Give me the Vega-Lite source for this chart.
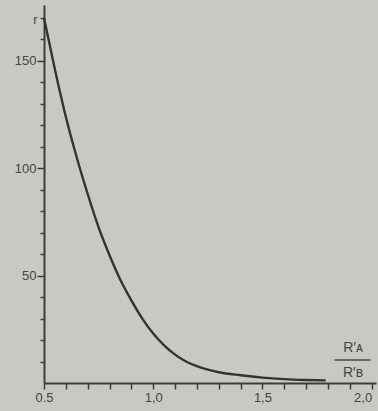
{
  "$schema": "https://vega.github.io/schema/vega-lite/v6.json",
  "width": 332,
  "height": 378,
  "autosize": {"type": "none"},
  "padding": {"left": 44, "top": 5, "right": 2, "bottom": 28},
  "background": "#c9c9c4",
  "config": {
    "view": {"stroke": null},
    "font": "Liberation Sans",
    "axis": {"grid": false, "labelOverlap": false, "labelBound": false, "domainColor": "#3c3c3c", "domainWidth": 2, "tickColor": "#3c3c3c", "tickWidth": 1.5, "labelColor": "#444444", "labelFont": "Liberation Sans", "labelFontSize": 13, "titleColor": "#444444", "titleFont": "Liberation Sans", "titleFontWeight": "normal"}
  },
  "datasets": {
    "curve": [
      {"q": 0.50, "r": 170},
      {"q": 0.55, "r": 146},
      {"q": 0.60, "r": 124},
      {"q": 0.65, "r": 105},
      {"q": 0.70, "r": 88},
      {"q": 0.75, "r": 72.5},
      {"q": 0.80, "r": 59.5},
      {"q": 0.85, "r": 48},
      {"q": 0.90, "r": 38.5},
      {"q": 0.95, "r": 30},
      {"q": 1.00, "r": 23},
      {"q": 1.05, "r": 17.5},
      {"q": 1.10, "r": 13.2},
      {"q": 1.15, "r": 10},
      {"q": 1.20, "r": 7.8},
      {"q": 1.25, "r": 6.2},
      {"q": 1.30, "r": 5},
      {"q": 1.40, "r": 3.6},
      {"q": 1.50, "r": 2.5},
      {"q": 1.60, "r": 1.8},
      {"q": 1.70, "r": 1.4},
      {"q": 1.79, "r": 1.2}
    ],
    "labels": [
      {"q": 1.915, "r": 16.5, "t": "R′ᴀ"},
      {"q": 1.915, "r": 4.8, "t": "R′ʙ"}
    ],
    "bar": [
      {"q": 1.83, "q2": 1.995, "r": 10.7}
    ]
  },
  "layer": [
    {
      "data": {"name": "curve"},
      "mark": {"type": "line", "interpolate": "monotone", "color": "#333333", "strokeWidth": 2.4},
      "encoding": {
        "x": {
          "field": "q", "type": "quantitative",
          "scale": {"domain": [0.5, 2.02], "nice": false, "zero": false},
          "axis": {
            "title": null,
            "tickCount": 100,
            "values": [0.5, 0.6, 0.7, 0.8, 0.9, 1.0, 1.1, 1.2, 1.3, 1.4, 1.5, 1.6, 1.7, 1.8, 1.9, 2.0],
            "labelExpr": "abs(datum.value - 0.5) < 0.001 ? '0.5' : (abs(datum.value*2 - round(datum.value*2)) < 0.001 ? replace(format(datum.value, '.1f'), '.', ',') : '')",
            "labelAlign": {"expr": "datum.value > 1.99 ? 'right' : 'center'"},
            "tickSize": 6,
            "labelPadding": 2
          }
        },
        "y": {
          "field": "r", "type": "quantitative",
          "scale": {"domain": [0, 176], "nice": false},
          "axis": {
            "title": "r",
            "titleAngle": 0,
            "titleX": -7,
            "titleY": 14,
            "titleFontSize": 13,
            "titleAlign": "right",
            "titleBaseline": "middle",
            "tickCount": 100,
            "values": [10, 20, 30, 40, 50, 60, 70, 80, 90, 100, 110, 120, 130, 140, 150, 160, 170],
            "labelExpr": "datum.value % 50 === 0 ? datum.value : ''",
            "tickSize": {"expr": "datum.value % 50 === 0 ? 7 : 4"},
            "labelPadding": 1
          }
        }
      }
    },
    {
      "data": {"name": "labels"},
      "mark": {"type": "text", "font": "Liberation Sans", "fontSize": 14, "color": "#444444", "align": "center", "baseline": "middle"},
      "encoding": {
        "x": {"field": "q", "type": "quantitative"},
        "y": {"field": "r", "type": "quantitative"},
        "text": {"field": "t"}
      }
    },
    {
      "data": {"name": "bar"},
      "mark": {"type": "rule", "color": "#444444", "strokeWidth": 1.5},
      "encoding": {
        "x": {"field": "q", "type": "quantitative"},
        "x2": {"field": "q2"},
        "y": {"field": "r", "type": "quantitative"}
      }
    }
  ]
}
